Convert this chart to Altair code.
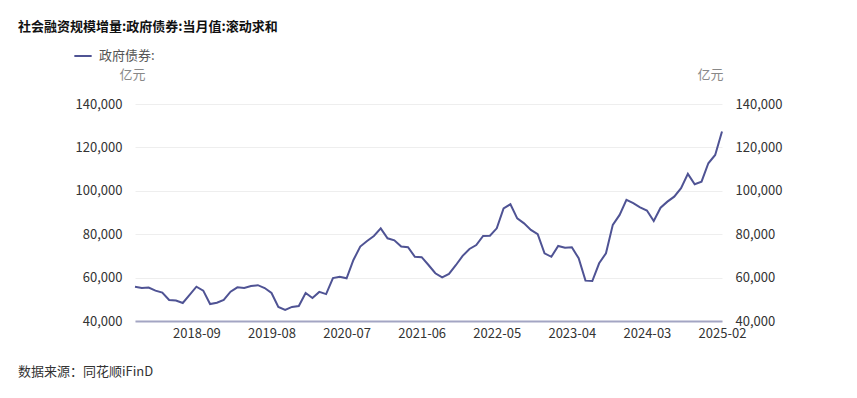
import altair as alt
import pandas as pd

months = [p.strftime("%Y-%m") for p in pd.period_range("2017-12", "2025-02", freq="M")]
values = [55800, 55200, 55400, 54000, 53100, 49700, 49400, 48300, 52000, 55800,
          54000, 47800, 48400, 49700, 53500, 55500, 55200, 56100, 56500, 55200,
          52900, 46500, 45100, 46500, 46900, 52900, 50600, 53400, 52400, 59800,
          60400, 59700, 68100, 74300, 76900, 79200, 82700, 78100, 77200, 74300,
          74000, 69600, 69400, 65800, 62000, 60100, 61700, 65700, 70000, 73200,
          75000, 79200, 79300, 82700, 91900, 93800, 87300, 85000, 82000, 80000,
          71200, 69600, 74600, 73800, 74000, 68900, 58600, 58400, 66600, 71200,
          84300, 88900, 95800, 94300, 92400, 90900, 86100, 92200, 95000, 97300,
          101200, 107800, 103000, 104200, 112700, 116500, 127300]
tick_labels = ["2018-09", "2019-08", "2020-07", "2021-06", "2022-05", "2023-04", "2024-03", "2025-02"]
series_name = "政府债券:"
title_text = "社会融资规模增量:政府债券:当月值:滚动求和"
source_text = "数据来源：同花顺iFinD"
unit = "亿元"

df = pd.DataFrame({"month": months, "value": values, "series": series_name})

FONT = "Noto Sans CJK SC"
LINE = "#4f5394"
ydomain = [40000, 140000]
yticks = [40000, 60000, 80000, 100000, 120000, 140000]

x = alt.X("month:O", scale=alt.Scale(type="point", padding=0),
          axis=alt.Axis(values=tick_labels, labelAngle=0, title=None, ticks=False,
                        domainColor="#a3a5c3", domainWidth=2, labelColor="#333333",
                        labelFontSize=13, labelFont=FONT, labelPadding=6, grid=False))

left = alt.Chart(df).mark_line(strokeWidth=2).encode(
    x=x,
    y=alt.Y("value:Q", scale=alt.Scale(domain=ydomain, nice=False),
            axis=alt.Axis(values=yticks, format=",d", orient="left", title=unit,
                          titleAngle=0, titleX=-3, titleY=-30, titleAlign="center",
                          titleBaseline="middle", titleColor="#888888", titleFontSize=13,
                          titleFontWeight="normal", titleFont=FONT,
                          labelColor="#333333", labelFontSize=13, labelFont=FONT,
                          labelPadding=13, ticks=False, domain=False,
                          grid=True, gridColor="#eeeeee")),
    color=alt.Color("series:N", scale=alt.Scale(domain=[series_name], range=[LINE]),
                    legend=alt.Legend(title=None, orient="none", legendX=-62, legendY=-58,
                                      symbolType="stroke", symbolSize=300, symbolStrokeWidth=2,
                                      labelFontSize=13, labelColor="#555555", labelFont=FONT,
                                      labelOffset=6)),
)

right = alt.Chart(df).mark_line(opacity=0).encode(
    x=x,
    y=alt.Y("value:Q", scale=alt.Scale(domain=ydomain, nice=False),
            axis=alt.Axis(values=yticks, format=",d", orient="right", title=unit,
                          titleAngle=0, titleX=-12, titleY=-30, titleAlign="center",
                          titleBaseline="middle", titleColor="#888888", titleFontSize=13,
                          titleFontWeight="normal", titleFont=FONT,
                          labelColor="#333333", labelFontSize=13, labelFont=FONT,
                          labelPadding=13, ticks=False, domain=False, grid=False)),
)

tdf = pd.DataFrame({"t": [title_text]})
title = alt.Chart(tdf).mark_text(align="left", baseline="middle", fontSize=13,
                                 fontWeight="bold", font=FONT, color="#111111").encode(
    x=alt.value(-117), y=alt.value(-77), text="t:N")

sdf = pd.DataFrame({"t": [source_text]})
source = alt.Chart(sdf).mark_text(align="left", baseline="middle", fontSize=13,
                                  font=FONT, color="#333333").encode(
    x=alt.value(-117), y=alt.value(268), text="t:N")

chart = alt.layer(left, right, title, source).resolve_scale(y="independent").properties(
    width=587, height=217,
    autosize=alt.AutoSizeParams(type="none"),
    padding={"left": 127, "top": 96, "right": 120, "bottom": 60},
).configure_view(stroke=None)

chart.save("out.html", embed_options={"renderer": "svg", "actions": False})
